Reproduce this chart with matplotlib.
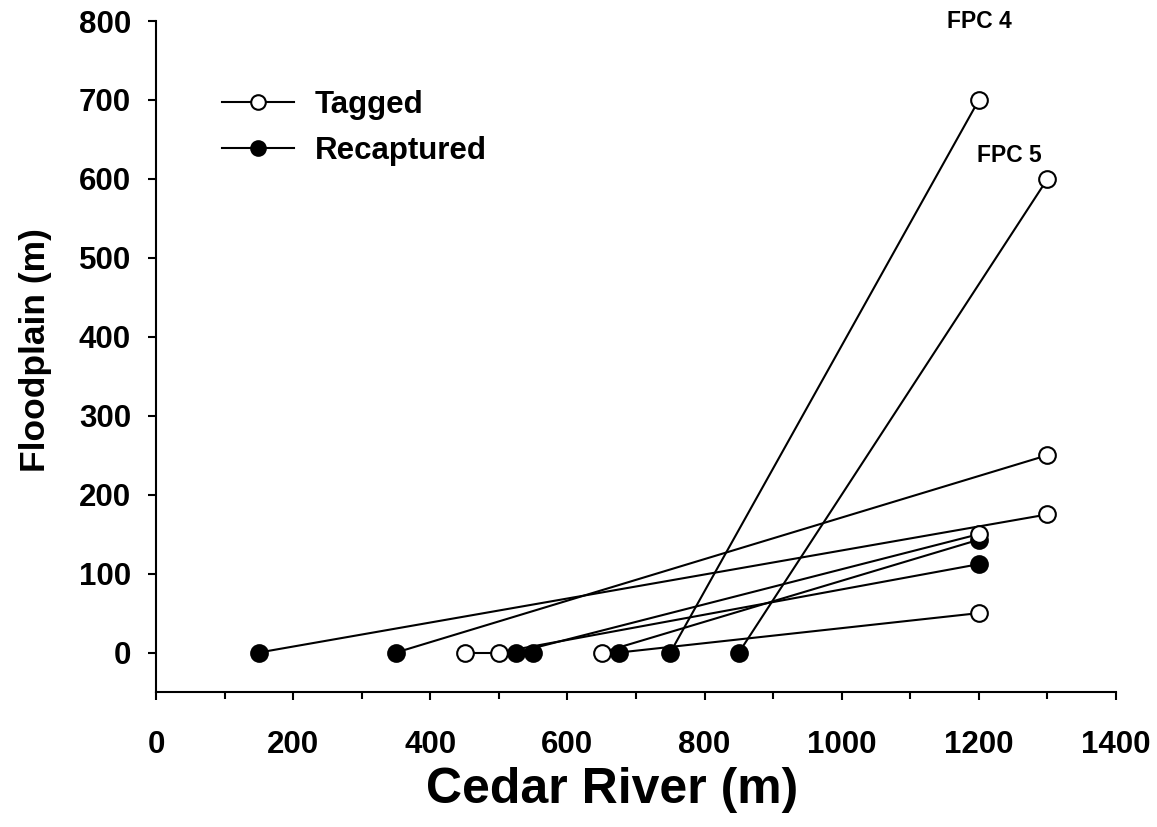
import numpy as np
import matplotlib
matplotlib.use('Agg')
import matplotlib.pyplot as plt
from matplotlib.lines import Line2D
from matplotlib.ticker import MultipleLocator

plt.rcParams['font.family'] = ['Liberation Sans', 'DejaVu Sans']
plt.rcParams['font.weight'] = 'bold'

# each fish: tagged location -> recaptured location
tag_x = [1300, 1300, 1200, 1300, 1200, 450, 500, 650, 1200]
tag_y = [175, 250, 700, 600, 50, 0, 0, 0, 150]
rec_x = [150, 350, 750, 850, 675, 550, 1200, 1200, 525]
rec_y = [0, 0, 0, 0, 0, 0, 112, 143, 0]

labels = ['FPC 4', 'FPC 5']
label_x = [1200, 1245]
label_y = [800, 630]

fig = plt.figure(figsize=(11.57, 8.27), dpi=100)
ax = fig.add_axes([0.1348, 0.1632, 0.8298, 0.8114])

for tx, ty, rx, ry in zip(tag_x, tag_y, rec_x, rec_y):
    ax.plot([tx, rx], [ty, ry], color='k', lw=1.5, zorder=2)
ax.plot(rec_x, rec_y, 'o', ls='none', ms=12, mfc='k', mec='k', mew=1.5, zorder=3)
ax.plot(tag_x, tag_y, 'o', ls='none', ms=12, mfc='w', mec='k', mew=1.5, zorder=4)

for t, x, y in zip(labels, label_x, label_y):
    ax.text(x, y, t, ha='center', va='center', fontsize=16.5, fontweight='bold')

ax.set_xlim(0, 1400)
ax.set_ylim(-50, 800)
ax.xaxis.set_major_locator(MultipleLocator(200))
ax.xaxis.set_minor_locator(MultipleLocator(100))
ax.yaxis.set_major_locator(MultipleLocator(100))
ax.spines['top'].set_visible(False)
ax.spines['right'].set_visible(False)
for s in ['left', 'bottom']:
    ax.spines[s].set_linewidth(1.5)
ax.tick_params(axis='both', which='major', direction='out', length=6, width=1.5, labelsize=22.5)
ax.tick_params(axis='x', which='minor', direction='out', length=5, width=1.5)
ax.tick_params(axis='x', pad=21)
ax.tick_params(axis='y', pad=12)

ax.set_xlabel('Cedar River (m)', fontsize=36, fontweight='bold')
ax.set_ylabel('Floodplain (m)', fontsize=25.5, fontweight='bold')
ax.xaxis.set_label_coords(0.475, -0.112)
ax.yaxis.set_label_coords(-0.108, 0.51)

handles = [Line2D([], [], color='k', lw=1.5, marker='o', ms=10.5, mfc='w', mec='k', mew=1.5),
           Line2D([], [], color='k', lw=1.5, marker='o', ms=10.5, mfc='k', mec='k', mew=1.5)]
ax.legend(handles, ['Tagged', 'Recaptured'], loc='upper left', bbox_to_anchor=(0.069, 0.897),
          frameon=False, borderpad=0, borderaxespad=0, handlelength=2.3, handletextpad=0.67,
          labelspacing=0.5, prop={'weight': 'bold', 'size': 22.5})

fig.savefig('out.png', dpi=100)
